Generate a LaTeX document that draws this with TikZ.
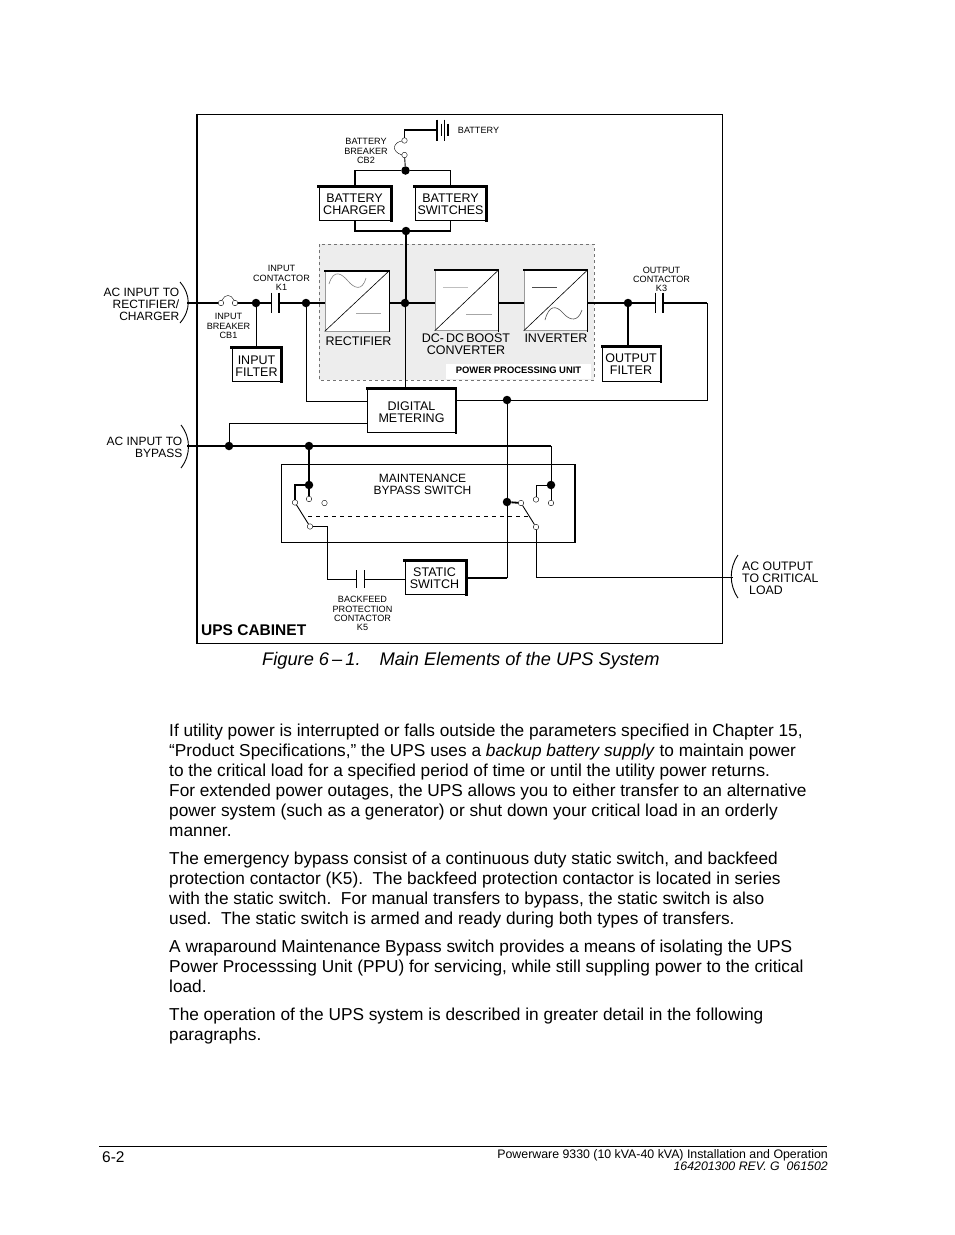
\documentclass[tikz,border=0pt]{standalone}
\usepackage{fontspec}
\setmainfont{Liberation Sans}
\newcommand{\fs}[2]{\fontsize{#1}{#2}\selectfont}
\tikzset{
 x=1pt,y=-1pt,
 blk/.style={draw=black,line width=0.9pt,fill=white,inner sep=0pt},
 lbl/.style={inner sep=0pt,align=center,font=\fs{12.5}{12}},
 lbs/.style={inner sep=0pt,font=\fs{12}{12}},
 tiny/.style={inner sep=0pt,align=center,font=\fs{9.1}{9.2}},
 dot/.style={circle,fill=black,inner sep=0pt,minimum size=8.5pt},
 term/.style={circle,draw=black,line width=0.4pt,fill=white,inner sep=0pt,minimum size=5.5pt},
 thin wire/.style={line width=0.9pt},
 thick wire/.style={line width=1.8pt},
 heavy/.style={line width=2.2pt},
 body/.style={anchor=north west,inner sep=0pt,align=left,font=\fs{17.27}{20}},
}
\newcommand{\conv}[1]{% top and right heavy edge of a box node
 \draw[heavy,line cap=rect] (#1.north west)--(#1.north east)--(#1.south east);}
\begin{document}
\begin{tikzpicture}
\useasboundingbox (0,0) rectangle (954,1235);
\fill[white] (0,0) rectangle (954,1235);
% cabinet
\draw[line width=0.9pt] (197,114) -- (722,114) -- (722,643) -- (197,643);
\draw[line width=1.8pt] (197,113.5) -- (197,643.5);
% PPU
\draw[fill=black!7,draw=black!55,line width=0.5pt,dash pattern=on 3pt off 3pt] (319,244) rectangle (594,380);
\fill[white] (446,364) rectangle (591,379);
\node[inner sep=0pt,font=\bfseries\fs{9.4}{9}] (ppu) at (518.5,370.5) {POWER PROCESSING UNIT};
% junction coordinates
\node[dot] (jb1) at (405.5,170.5) {};
\node[dot] (jb2) at (406,231) {};
\node[dot] (jm) at (405,303) {};
\node[dot] (ji) at (256,303) {};
\node[dot] (jr) at (306,303) {};
\node[dot] (jo) at (628,303) {};
\node[dot] (jd) at (507,400) {};
\node[dot] (jp) at (229,446) {};
\node[dot] (jq) at (309,446) {};
\node[dot] (jl) at (309,485) {};
\node[dot] (jR) at (551,485) {};
\node[dot] (js) at (507,502) {};
% terminals
\node[term] (b1) at (404.5,140.5) {};
\node[term] (b2) at (404.5,155) {};
\node[term] (c1) at (221,303) {};
\node[term] (c2) at (235,303) {};
\node[term] (la) at (295,502.5) {};
\node[term] (lb) at (309,499) {};
\node[term] (lc) at (324.5,503) {};
\node[term] (ld) at (310,526.5) {};
\node[term] (ra) at (521,503) {};
\node[term] (rb) at (536,499.5) {};
\node[term] (rc) at (551,503) {};
\node[term] (rd) at (536,527) {};
% boxes
\node[blk,minimum width=72pt,minimum height=33pt] (chg) at (355,203.5) {};
\node[blk,minimum width=71pt,minimum height=33pt] (swt) at (450.5,203.5) {};
\node[blk,minimum width=49pt,minimum height=33pt] (ifl) at (256.5,364.5) {};
\node[blk,minimum width=58pt,minimum height=34pt] (ofl) at (631.5,364) {};
\node[blk,minimum width=88pt,minimum height=43pt] (dig) at (411.5,410.5) {};
\node[blk,minimum width=61pt,minimum height=33pt] (sta) at (435.5,577.5) {};
\node[lbl] (tchg) at (354.5,204.5) {BATTERY\\CHARGER};
\node[lbl] (tswt) at (450.5,204.5) {BATTERY\\SWITCHES};
\node[lbl] (tifl) at (256.5,366) {INPUT\\FILTER};
\node[lbl] (tofl) at (631,364) {OUTPUT\\FILTER};
\node[lbl] (tdig) at (411.5,412) {DIGITAL\\METERING};
\node[lbl] (tsta) at (434.5,578.5) {STATIC\\SWITCH};
% converter boxes
\node[draw=black!40,line width=0.6pt,fill=white,inner sep=0pt,minimum width=64pt,minimum height=60pt] (rec) at (357,301) {};
\node[draw=black!40,line width=0.6pt,fill=white,inner sep=0pt,minimum width=63pt,minimum height=60pt] (dcd) at (466.5,300.5) {};
\node[draw=black!40,line width=0.6pt,fill=white,inner sep=0pt,minimum width=63pt,minimum height=60pt] (inv) at (555.5,300.5) {};
\foreach \b in {rec,dcd,inv}{
 \draw[line width=0.6pt] (\b.south west)--(\b.north east);
 \draw[line width=1.6pt,line cap=rect] (\b.north west)--(\b.north east)--(\b.south east);
}
% glyphs in converters
\draw[black!50,line width=0.6pt] (329,284) .. controls (334,268) and (342,274) .. (348,281) .. controls (354,288) and (362,292) .. (366,278);
\draw[black!35,line width=0.8pt] (356,313) -- (381,313);
\draw[black!25,line width=0.8pt] (443,287) -- (468,287);
\draw[black!35,line width=0.8pt] (466,314) -- (492,314);
\draw[black!70,line width=0.6pt] (532,287) -- (557,287);
\draw[black!70,line width=0.6pt] (545,320) .. controls (549,305) and (556,305) .. (563,313) .. controls (570,321) and (578,322) .. (582,310);
% maintenance bypass box
\draw[line width=0.9pt] (281,464) rectangle (575,542);
\draw[line width=1.6pt] (575,464) -- (575,542.5);
% text labels
\node[lbl] (trec) at (358.5,341) {RECTIFIER};
\node[lbl] (tdc) at (466,344) {DC-\,DC\,BOOST\\[-0.5pt]CONVERTER};
\node[lbl] (tinv) at (556,338) {INVERTER};
\node[lbs,align=center] (tmbs) at (422.5,484) {MAINTENANCE\\BYPASS SWITCH};
\node[tiny] (tb) at (478.5,130) {BATTERY};
\node[tiny] (tcb2) at (366,151) {BATTERY\\BREAKER\\CB2};
\node[tiny] (tk1) at (281.5,278) {INPUT\\CONTACTOR\\K1};
\node[tiny] (tcb1) at (228.5,326) {INPUT\\BREAKER\\CB1};
\node[tiny] (tk3) at (661.5,279.5) {OUTPUT\\CONTACTOR\\K3};
\node[tiny] (tk5) at (362.5,613.5) {BACKFEED\\PROTECTION\\CONTACTOR\\K5};
\node[lbs,align=right,anchor=east] (tac1) at (179.5,304) {AC INPUT TO\\RECTIFIER/\\CHARGER};
\node[lbs,align=right,anchor=east] (tac2) at (182.5,447) {AC INPUT TO\\BYPASS};
\node[lbs,align=left,anchor=west,font=\fs{12.3}{12}] (tac3) at (742,578) {AC OUTPUT\\TO CRITICAL\\\hspace*{7pt}LOAD};
\node[inner sep=0pt,anchor=base west,font=\bfseries\fs{15.5}{15}] (tups) at (201,635) {UPS CABINET};
% battery and its breaker
\coordinate (bp) at (437,130);
\draw[thick wire] (b1.north) |- (bp);
\draw[line width=2pt] (437,119.5) -- (437,140.5);
\draw[line width=0.8pt] (441,123.5) -- (441,135.5);
\draw[line width=0.8pt] (444.5,119.5) -- (444.5,140.5);
\draw[line width=2pt] (448,123.5) -- (448,135.5);
\draw[line width=0.4pt] (402,141) .. controls (394,142) and (390,151) .. (402,155);
\draw[thin wire] (b2) -- (jb1);
\draw[line width=1.2pt] (chg.north) |- (jb1) -| (swt.north);
\draw[thick wire] (chg.south) |- (jb2) -| (swt.south);
\draw[thick wire] (jb2) -- (jb2 |- jm);
\draw[thin wire] (jm) -- (dig.north -| jm);
% main line
\coordinate (acin) at (187,303);
\draw[thick wire] (acin) -- (c1);
\draw[thick wire] (c2) -- (ji);
\draw[line width=0.4pt] (222,300) .. controls (225,294) and (231,294) .. (234,300);
\coordinate (k1a) at (271,303);
\coordinate (k1b) at (279,303);
\draw[thick wire] (ji) -- (k1a);
\draw[thick wire] (k1b) -- (jr);
\draw[line width=0.9pt] (271,292.5) -- (271,312.5);
\draw[line width=2pt] (279,292.5) -- (279,312.5);
\draw[thick wire] (jr) -- (rec.west |- jr);
\draw[thick wire] (rec.east |- jm) -- (dcd.west |- jm);
\draw[thick wire] (dcd.east |- jm) -- (inv.west |- jm);
\draw[thick wire] (inv.east |- jo) -- (jo);
\coordinate (k3a) at (655,303);
\coordinate (k3b) at (663,303);
\draw[thick wire] (jo) -- (k3a);
\draw[line width=0.9pt] (655,292.5) -- (655,312.5);
\draw[line width=2pt] (663,292.5) -- (663,312.5);
\coordinate (oc) at (707,303);
\draw[thick wire] (k3b) -- (oc);
\draw[line width=1pt] (oc) |- (dig.east |- jd);
\draw[thin wire] (ji) -- (ji |- ifl.north);
\draw[line width=1.3pt] (jo) -- (jo |- ofl.north);
\draw[thin wire] (jr) |- (dig.west |- 0,401);
% bypass
\coordinate (byp) at (187,446);
\draw[thick wire] (byp) -- (jq) -- (jR |- jq);
\draw[thin wire] (jp) |- (dig.west |- 0,423);
\draw[thick wire] (jq) -- (jl);
\draw[thick wire] (jl) -- (lb);
\draw[thick wire] (jl) -| (la);
\draw[thin wire] (jR |- jq) -- (jR) -- (rc);
\draw[thin wire] (jR) -| (rb);
\draw[thin wire] (la) -- (ld);
\draw[thin wire] (ra) -- (rd);
\draw[thick wire] (js) -- (ra);
\draw[line width=0.9pt,dash pattern=on 4pt off 4pt] (308,516) -- (528,516);
% static path
\coordinate (lk) at (327,579);
\coordinate (k5a) at (356,579);
\coordinate (k5b) at (364,579);
\draw[thin wire] (ld) -| (lk) -- (k5a);
\draw[thin wire] (356,570) -- (356,587.5);
\draw[thin wire] (364,570) -- (364,587.5);
\draw[thin wire] (k5b) -- (sta.west |- k5b);
\coordinate (st) at (507,578);
\draw[thick wire] (sta.east |- st) -- (st);
\draw[thin wire] (st) -- (jd);
\coordinate (acout) at (733,577);
\draw[thin wire] (rd) |- (acout);
% box shadows
\conv{chg}\conv{swt}\conv{ifl}\conv{ofl}\conv{dig}\conv{sta}
% brackets
\draw[line width=0.9pt] (180,282) .. controls (191,295) and (191,310) .. (180,323);
\draw[line width=0.9pt] (181,425) .. controls (191,438) and (191,455) .. (181,468);
\draw[line width=0.9pt] (738,555) .. controls (729,568) and (729,585) .. (738,598);
% caption
\node[inner sep=0pt,anchor=base west,font=\itshape\fs{18.25}{20}] (cap) at (262,665) {Figure 6\,--\,1.\hspace{19pt}Main Elements of the UPS System};
% body text
\node[body] (p1) at (169,724) {If utility power is interrupted or falls outside the parameters specified in Chapter 15,\\
“Product Specifications,” the UPS uses a \textit{backup battery supply} to maintain power\\
to the critical load for a specified period of time or until the utility power returns.\\
For extended power outages, the UPS allows you to either transfer to an alternative\\
power system (such as a generator) or shut down your critical load in an orderly\\
manner.};
\node[body] (p2) at (169,852) {The emergency bypass consist of a continuous duty static switch, and backfeed\\
protection contactor (K5).\ \ The backfeed protection contactor is located in series\\
with the static switch.\ \ For manual transfers to bypass, the static switch is also\\
used.\ \ The static switch is armed and ready during both types of transfers.};
\node[body] (p3) at (169,940) {A wraparound Maintenance Bypass switch provides a means of isolating the UPS\\
Power Processsing Unit (PPU) for servicing, while still suppling power to the critical\\
load.};
\node[body] (p4) at (169,1008) {The operation of the UPS system is described in greater detail in the following\\
paragraphs.};
% footer
\draw[line width=0.7pt] (99,1146) -- (827,1146);
\node[inner sep=0pt,anchor=base west,font=\fs{15.5}{16}] (pg) at (102,1162) {6-2};
\node[inner sep=0pt,anchor=base east,font=\fs{12.35}{13}] (ft1) at (828,1158) {Powerware 9330 (10 kVA-40 kVA) Installation and Operation};
\node[inner sep=0pt,anchor=base east,font=\itshape\fs{12.35}{13}] (ft2) at (828,1170) {164201300 REV. G\ \ 061502};
\end{tikzpicture}
\end{document}
